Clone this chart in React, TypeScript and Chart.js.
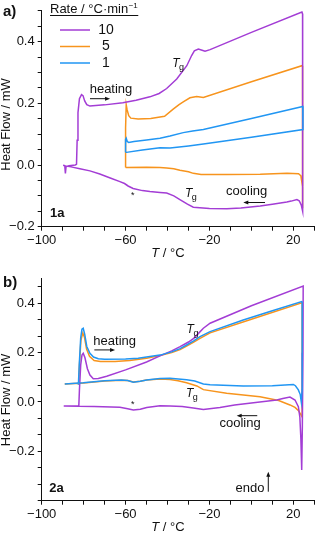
import React, { useEffect, useRef } from 'react';
import { Chart, registerables } from 'chart.js';

Chart.register(...registerables);

const FONT = "'Liberation Sans', Arial, Helvetica, sans-serif";
const INK = '#111';
const COLORS = ['#a33dd5', '#f7941d', '#2196f3'];
const RATE_LABELS = ['10', '5', '1'];
const DRAW_ORDER = [1, 2, 0];

// ---------- Panel a (1a) ----------
const aT10 = [-89.8, -89.0, -88.7, -88.4, -87, -84, -83.4, -83.1, -82.7, -82.0, -81.0, -80.3, -79.5, -78.5, -77.0, -70, -61.3, -55, -48.4, -44, -40.4, -35.6, -30.8, -28.5, -27.2, -25.3, -23.5, -22.1, -19.7, 0, 24.1,
  24.4, 24.5, 24.4, 23.8, 22.8, 21.7, 19, 16.9, 10, 4.2, -5, -11.7, -20, -27.7, -30.5, -34.1, -37, -40.4, -43.6, -48.4, -52, -56.4, -58.8, -60.5, -62.7, -67, -72.3, -77, -81.8, -86, -89.8];
const aHF10 = [-0.001, -0.002, -0.027, -0.006, -0.002, 0.0, 0.002, 0.08, 0.17, 0.215, 0.228, 0.225, 0.208, 0.196, 0.191, 0.195, 0.202, 0.21, 0.221, 0.232, 0.248, 0.279, 0.322, 0.355, 0.37, 0.376, 0.372, 0.369, 0.374, 0.43, 0.496,
  0.49, 0.0, -0.15, -0.13, -0.116, -0.112, -0.117, -0.12, -0.127, -0.133, -0.139, -0.142, -0.141, -0.137, -0.127, -0.112, -0.1, -0.091, -0.089, -0.086, -0.083, -0.076, -0.068, -0.06, -0.054, -0.043, -0.029, -0.019, -0.012, -0.006, -0.002];

const aT5 = [-60.0, -60.0, -59.7, -59.3, -58.5, -57.5, -54, -48, -41.4, -37.3, -34.5, -32.5, -29.3, -26.1, -22.9, 0, 24.1,
  24.4, 24.6, 24.2, 23.6, 22.5, 17, 4.2, -11.7, -24, -27.7, -30, -34.1, -37, -40.4, -43.6, -50, -60];
const aHF5 = [-0.008, 0.12, 0.195, 0.18, 0.16, 0.152, 0.149, 0.151, 0.158, 0.181, 0.196, 0.205, 0.218, 0.222, 0.219, 0.27, 0.322,
  0.32, -0.14, -0.07, -0.035, -0.028, -0.027, -0.03, -0.031, -0.031, -0.027, -0.022, -0.017, -0.012, -0.01, -0.008, -0.007, -0.008];

const aT1 = [-60.0, -60.0, -59.7, -59.2, -58.5, -56, -50, -43.6, -38.8, -32.5, -28, -22.9, 0, 24.5,
  24.6, 0, -22.9, -30, -38.8, -43.6, -52, -59.6, -60.0];
const aHF1 = [0.041, 0.083, 0.087, 0.076, 0.073, 0.076, 0.081, 0.087, 0.094, 0.105, 0.11, 0.115, 0.151, 0.19,
  0.115, 0.09, 0.068, 0.062, 0.055, 0.056, 0.049, 0.041, 0.041];

// ---------- Panel b (2a) ----------
const bT10 = [-89.5, -82.3, -82.0, -81.4, -80.8, -80.2, -79.4, -78.2, -77.0, -75.4, -73, -69, -60, -50, -43.6, -38, -34, -30, -27.5, -25, -22.9, -19.7, 0, 24.7,
  24.6, 24.3, 24.0, 23.6, 23.1, 22.4, 20.8, 18.4, 15, 12.1, 1.0, -8, -15, -22.9, -27.7, -33, -38.8, -43.6, -49.9, -53, -56.3, -59, -62.7, -75, -89.5];
const bHF10 = [-0.016, -0.016, 0.05, 0.15, 0.19, 0.197, 0.18, 0.135, 0.109, 0.094, 0.095, 0.104, 0.13, 0.162, 0.187, 0.207, 0.224, 0.243, 0.258, 0.28, 0.299, 0.319, 0.39, 0.47,
  0.2, -0.1, -0.276, -0.15, -0.06, -0.019, 0.008, 0.02, 0.014, 0.008, -0.003, -0.012, -0.022, -0.03, -0.024, -0.018, -0.016, -0.015, -0.022, -0.029, -0.032, -0.027, -0.021, -0.018, -0.016];

const bT5 = [-82.4, -82.0, -81.3, -80.4, -79.6, -78.6, -77.2, -75, -72, -65, -58, -50, -43.6, -38, -34, -30.9, -27.5, -24.5, -19.7, 0, 24.0,
  24.2, 24.2, 23.5, 22.6, 20.8, 18.4, 13, 4.1, -11.8, -22.9, -26, -30.9, -35, -38.8, -43.6, -50, -53, -56.3, -59, -62, -70, -80, -89];
const bHF5 = [0.071, 0.15, 0.25, 0.28, 0.262, 0.215, 0.185, 0.168, 0.164, 0.164, 0.168, 0.177, 0.188, 0.2, 0.212, 0.226, 0.243, 0.258, 0.28, 0.335, 0.402,
  0.4, -0.06, -0.05, -0.036, -0.022, -0.012, 0.006, 0.021, 0.035, 0.05, 0.065, 0.078, 0.086, 0.091, 0.093, 0.089, 0.084, 0.081, 0.087, 0.088, 0.085, 0.077, 0.073];

const bT1 = [-82.5, -82.1, -81.4, -80.8, -80.2, -79.5, -78.5, -77.0, -75.3, -73, -70, -60, -54, -43.6, -38, -34, -30.9, -27.5, -24.5, -19.7, -3.9, 10, 24.0,
  24.2, 24.2, 23.8, 23.3, 22.4, 21, 20.0, 10, -3.9, -19.7, -22.9, -27, -30.9, -38.8, -43.6, -50, -53, -56.3, -59, -62, -70, -80.2, -89];
const bHF1 = [0.07, 0.15, 0.26, 0.295, 0.299, 0.275, 0.225, 0.197, 0.182, 0.175, 0.173, 0.174, 0.177, 0.19, 0.203, 0.216, 0.231, 0.248, 0.265, 0.285, 0.332, 0.37, 0.407,
  0.405, 0.05, 0.0, 0.03, 0.049, 0.066, 0.071, 0.066, 0.065, 0.07, 0.073, 0.085, 0.09, 0.096, 0.095, 0.089, 0.084, 0.08, 0.087, 0.089, 0.086, 0.078, 0.073];

// ---------- Axes ----------
const X_TICKS = [-100, -90, -80, -70, -60, -50, -40, -30, -20, -10, 0, 10, 20, 30];
const X_LABELED = [-100, -60, -20, 20];
const A_Y_TICKS = [-0.2, -0.15, -0.1, -0.05, 0, 0.05, 0.1, 0.15, 0.2, 0.25, 0.3, 0.35, 0.4, 0.45, 0.5];
const B_Y_TICKS = [-0.4, -0.3333, -0.2667, -0.2, -0.1333, -0.0667, 0, 0.0667, 0.1333, 0.2, 0.2667, 0.3333, 0.4, 0.4667];
const Y_LABELED = [-0.2, 0, 0.2, 0.4];

const fmtX = (v: number) => (v < 0 ? '\u2212' + Math.abs(v) : String(v));
const fmtY = (v: number) => (Math.abs(v) < 1e-9 ? '0.0' : v < 0 ? '\u2212' + Math.abs(v).toFixed(1) : v.toFixed(1));

function txt(ctx: CanvasRenderingContext2D, s: string, x: number, y: number, font: string, align: CanvasTextAlign = 'center', baseline: CanvasTextBaseline = 'alphabetic') {
  ctx.font = font;
  ctx.textAlign = align;
  ctx.textBaseline = baseline;
  ctx.fillStyle = INK;
  ctx.fillText(s, x, y);
}

function arrow(ctx: CanvasRenderingContext2D, x1: number, y1: number, x2: number, y2: number) {
  const ang = Math.atan2(y2 - y1, x2 - x1);
  const hl = 5, hw = 2;
  ctx.strokeStyle = INK;
  ctx.fillStyle = INK;
  ctx.lineWidth = 1;
  ctx.beginPath();
  ctx.moveTo(x1, y1);
  ctx.lineTo(x2 - hl * 0.8 * Math.cos(ang), y2 - hl * 0.8 * Math.sin(ang));
  ctx.stroke();
  ctx.beginPath();
  ctx.moveTo(x2, y2);
  ctx.lineTo(x2 - hl * Math.cos(ang) + hw * Math.sin(ang), y2 - hl * Math.sin(ang) - hw * Math.cos(ang));
  ctx.lineTo(x2 - hl * Math.cos(ang) - hw * Math.sin(ang), y2 - hl * Math.sin(ang) + hw * Math.cos(ang));
  ctx.closePath();
  ctx.fill();
}

function tg(ctx: CanvasRenderingContext2D, x: number, y: number) {
  ctx.textAlign = 'left';
  ctx.textBaseline = 'alphabetic';
  ctx.fillStyle = INK;
  ctx.font = `italic 12px ${FONT}`;
  ctx.fillText('T', x, y);
  const w = ctx.measureText('T').width;
  ctx.font = `9px ${FONT}`;
  ctx.fillText('g', x + w - 0.5, y + 3);
}

function axisTitles(ctx: CanvasRenderingContext2D, yTitleY: number, xTitleY: number) {
  // y title
  ctx.save();
  ctx.translate(6, yTitleY);
  ctx.rotate(-Math.PI / 2);
  txt(ctx, 'Heat Flow / mW', 0, 0, `13px ${FONT}`, 'center', 'middle');
  ctx.restore();
  // x title: italic T + " / °C"
  ctx.font = `italic 13px ${FONT}`;
  const wT = ctx.measureText('T').width;
  ctx.font = `13px ${FONT}`;
  const wR = ctx.measureText(' / \u00B0C').width;
  const x0 = 168 - (wT + wR) / 2;
  txt(ctx, 'T', x0, xTitleY, `italic 13px ${FONT}`, 'left', 'middle');
  txt(ctx, ' / \u00B0C', x0 + wT, xTitleY, `13px ${FONT}`, 'left', 'middle');
}

function drawA(chart: Chart) {
  const ctx = chart.ctx;
  const X = chart.scales.x, Y = chart.scales.y;
  const px = (t: number) => X.getPixelForValue(t);
  const py = (v: number) => Y.getPixelForValue(v);
  ctx.save();
  txt(ctx, 'a)', 3, 11.5, `bold 15px ${FONT}`, 'left', 'middle');
  // legend
  const title = 'Rate / \u00B0C\u00B7min';
  txt(ctx, title, 50, 9, `13px ${FONT}`, 'left', 'middle');
  ctx.font = `13px ${FONT}`;
  const tw = ctx.measureText(title).width;
  txt(ctx, '\u22121', 50 + tw + 0.5, 5.5, `8px ${FONT}`, 'left', 'middle');
  ctx.font = `8px ${FONT}`;
  const sw = ctx.measureText('\u22121').width;
  ctx.strokeStyle = INK;
  ctx.lineWidth = 1;
  ctx.beginPath();
  ctx.moveTo(50, 15.5);
  ctx.lineTo(50 + tw + sw + 1, 15.5);
  ctx.stroke();
  const ly = [30, 46.5, 63];
  RATE_LABELS.forEach((r, i) => {
    ctx.strokeStyle = COLORS[i];
    ctx.lineWidth = 1.5;
    ctx.beginPath();
    ctx.moveTo(60, ly[i]);
    ctx.lineTo(90, ly[i]);
    ctx.stroke();
    txt(ctx, r, 106, ly[i], `14px ${FONT}`, 'center', 'middle');
  });
  // annotations
  txt(ctx, 'heating', px(-66.95), py(0.232), `13px ${FONT}`, 'center');
  arrow(ctx, px(-76.97), py(0.215), px(-67.4), py(0.215));
  tg(ctx, px(-37.8), py(0.3165));
  tg(ctx, px(-31.7), py(-0.1025));
  txt(ctx, 'cooling', px(-2.24), py(-0.096), `13px ${FONT}`, 'center');
  arrow(ctx, px(6.5), py(-0.1216), px(-3.86), py(-0.1216));
  txt(ctx, '*', px(-56.6), py(-0.09) + 3, `9px ${FONT}`, 'center', 'middle');
  txt(ctx, '1a', px(-96.0), py(-0.169), `bold 13px ${FONT}`, 'left');
  axisTitles(ctx, 124.5, 253);
  ctx.restore();
}

function drawB(chart: Chart) {
  const ctx = chart.ctx;
  const X = chart.scales.x, Y = chart.scales.y;
  const px = (t: number) => X.getPixelForValue(t);
  const py = (v: number) => Y.getPixelForValue(v);
  ctx.save();
  txt(ctx, 'b)', 3, 18, `bold 15px ${FONT}`, 'left', 'middle');
  txt(ctx, 'heating', px(-65.2), py(0.231), `13px ${FONT}`, 'center');
  arrow(ctx, px(-74.9), py(0.211), px(-65.0), py(0.211));
  tg(ctx, px(-30.9), py(0.278));
  tg(ctx, px(-31.2), py(0.0215));
  txt(ctx, 'cooling', px(-5.4), py(-0.103), `13px ${FONT}`, 'center');
  arrow(ctx, px(2.8), py(-0.0555), px(-7.0), py(-0.0555));
  txt(ctx, '*', px(-56.6), py(0.001) + 3, `9px ${FONT}`, 'center', 'middle');
  txt(ctx, 'endo', px(-0.7), py(-0.3636), `13px ${FONT}`, 'center');
  arrow(ctx, px(8.06), py(-0.3636), px(8.06), py(-0.2825));
  txt(ctx, '2a', px(-96.4), py(-0.3636), `bold 13px ${FONT}`, 'left');
  axisTitles(ctx, 135, 262);
  ctx.restore();
}

type PanelCfg = {
  series: { T: number[]; HF: number[] }[];
  yMin: number;
  yMax: number;
  yTicks: number[];
  padTop: number;
  padBottom: number;
  draw: (c: Chart) => void;
};

function buildChart(canvas: HTMLCanvasElement, cfg: PanelCfg) {
  const datasets = cfg.series.map((s, i) => ({
    label: RATE_LABELS[i],
    data: s.T.map((t, j) => ({ x: t, y: s.HF[j] })),
    borderColor: COLORS[i],
    backgroundColor: COLORS[i],
    borderWidth: 1.5,
    pointRadius: 0,
    fill: false,
    tension: 0,
    order: DRAW_ORDER[i],
  }));
  const tickFont = { family: FONT, size: 13 };
  return new Chart(canvas, {
    type: 'line',
    data: { datasets },
    options: {
      responsive: false,
      maintainAspectRatio: false,
      animation: false,
      devicePixelRatio: 1,
      layout: { padding: { left: 0, right: 320 - 314.3, top: cfg.padTop, bottom: cfg.padBottom } },
      plugins: { legend: { display: false }, tooltip: { enabled: false }, title: { display: false } },
      scales: {
        x: {
          type: 'linear',
          min: -100,
          max: 30,
          afterBuildTicks: (s: any) => { s.ticks = X_TICKS.map((v) => ({ value: v })); },
          afterFit: (s: any) => { s.height = 30; },
          ticks: {
            autoSkip: false,
            maxRotation: 0,
            padding: 2,
            color: INK,
            font: tickFont,
            callback: (v: any) => (X_LABELED.includes(Number(v)) ? fmtX(Number(v)) : ''),
          },
          grid: { display: true, drawOnChartArea: false, drawTicks: true, tickLength: 4, color: INK, lineWidth: 1 },
          border: { display: true, color: INK, width: 1 },
        },
        y: {
          type: 'linear',
          min: cfg.yMin,
          max: cfg.yMax,
          afterBuildTicks: (s: any) => { s.ticks = cfg.yTicks.map((v) => ({ value: v })); },
          afterFit: (s: any) => { s.width = 41.7; },
          ticks: {
            autoSkip: false,
            padding: 3,
            color: INK,
            font: tickFont,
            callback: (v: any) => {
              const n = Number(v);
              return Y_LABELED.some((l) => Math.abs(l - n) < 1e-6) ? fmtY(n) : '';
            },
          },
          grid: { display: true, drawOnChartArea: false, drawTicks: true, tickLength: 4, color: INK, lineWidth: 1 },
          border: { display: true, color: INK, width: 1 },
        },
      },
    },
    plugins: [{ id: 'annot', afterDraw: (c: Chart) => cfg.draw(c) }],
  } as any);
}

export default function App() {
  const refA = useRef<HTMLCanvasElement>(null);
  const refB = useRef<HTMLCanvasElement>(null);
  useEffect(() => {
    const ca = buildChart(refA.current!, {
      series: [{ T: aT10, HF: aHF10 }, { T: aT5, HF: aHF5 }, { T: aT1, HF: aHF1 }],
      yMin: -0.2,
      yMax: 0.5,
      yTicks: A_Y_TICKS,
      padTop: 6.2,
      padBottom: 265 - 226.7 - 30,
      draw: drawA,
    });
    const cb = buildChart(refB.current!, {
      series: [{ T: bT10, HF: bHF10 }, { T: bT5, HF: bHF5 }, { T: bT1, HF: bHF1 }],
      yMin: -0.4,
      yMax: 0.5,
      yTicks: B_Y_TICKS,
      padTop: 278.6 - 265,
      padBottom: 268 - (500.7 - 265) - 30,
      draw: drawB,
    });
    return () => {
      ca.destroy();
      cb.destroy();
    };
  }, []);
  return (
    <div style={{ position: 'fixed', left: 0, top: 0, width: 320, height: 533, background: '#fff' }}>
      <canvas ref={refA} width={320} height={265} style={{ position: 'absolute', left: 0, top: 0, width: 320, height: 265 }} />
      <canvas ref={refB} width={320} height={268} style={{ position: 'absolute', left: 0, top: 265, width: 320, height: 268 }} />
    </div>
  );
}
